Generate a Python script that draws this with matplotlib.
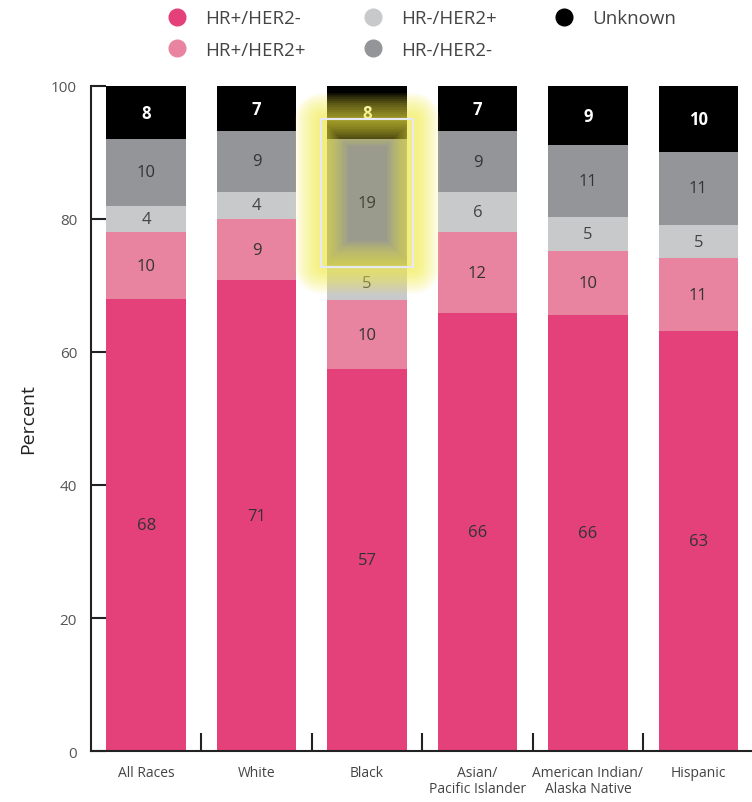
import matplotlib.pyplot as plt
import numpy as np
from matplotlib.lines import Line2D
from matplotlib.patches import Rectangle

# breast cancer subtypes by race/ethnicity (percent)
groups = ['All Races', 'White', 'Black', 'Asian/\nPacific Islander',
          'American Indian/\nAlaska Native', 'Hispanic']
subtypes = ['HR+/HER2-', 'HR+/HER2+', 'HR-/HER2+', 'HR-/HER2-', 'Unknown']
hr_pos_her2_neg = [68.0, 70.8, 57.4, 65.9, 65.6, 63.1]
hr_pos_her2_pos = [10.0, 9.2, 10.4, 12.1, 9.6, 11.0]
hr_neg_her2_pos = [4.0, 4.1, 5.0, 6.0, 5.1, 5.0]
hr_neg_her2_neg = [10.0, 9.1, 19.2, 9.2, 10.8, 11.0]
unknown = [8.0, 6.8, 8.0, 6.8, 8.9, 9.9]
highlight_group = 'Black'

colors = ['#e4417a', '#e8849f', '#c8c9cb', '#939598', '#000000']
text_colors = ['#333333', '#333333', '#444444', '#333333', 'white']

plt.rcParams['font.family'] = ['Open Sans', 'DejaVu Sans']

fig = plt.figure(figsize=(7.52, 8.03), dpi=100)
ax = fig.add_axes([0.121, 0.0635, 0.881, 0.8282])

series = [hr_pos_her2_neg, hr_pos_her2_pos, hr_neg_her2_pos, hr_neg_her2_neg, unknown]
x = np.arange(len(groups))
bottom = np.zeros(len(groups))
width = 0.72
seg_bounds = {}
for i, vals in enumerate(series):
    vals = np.array(vals)
    ax.bar(x, vals, width, bottom=bottom, color=colors[i], linewidth=0, zorder=2)
    for j, v in enumerate(vals):
        ax.text(x[j], bottom[j] + v / 2, f'{v:.0f}', ha='center', va='center',
                fontsize=12, color=text_colors[i],
                fontweight='bold' if i == 4 else 'normal', zorder=3)
    seg_bounds[i] = (bottom.copy(), bottom + vals)
    bottom = bottom + vals

# yellow highlight on the Black HR-/HER2- segment
k = groups.index(highlight_group)
lo = seg_bounds[3][0][k]
hi = seg_bounds[3][1][k] + 3
pad = 0.055
for lw in np.arange(38, 2, -3):
    ax.add_patch(Rectangle((k - width / 2 - pad, lo), width + 2 * pad, hi - lo,
                           facecolor='none', edgecolor='#f6ef40', linewidth=lw,
                           alpha=0.08, zorder=4, joinstyle='round'))
ax.add_patch(Rectangle((k - width / 2 - pad, lo), width + 2 * pad, hi - lo,
                       facecolor='#d8d030', alpha=0.1, linewidth=0, zorder=4))
ax.add_patch(Rectangle((k - width / 2 - pad, lo), width + 2 * pad, hi - lo,
                       facecolor='none', edgecolor='#e6e9f2', linewidth=1.6, zorder=5))

ax.set_xlim(-0.5, 5.5)
ax.set_ylim(0, 100)
ax.set_yticks(np.arange(0, 101, 20))
ax.set_xticks(x)
ax.set_xticklabels(groups, fontsize=10, color='#444444', linespacing=1.1)
ax.set_xticks(np.arange(0.5, 6, 1), minor=True)
ax.tick_params(axis='x', which='major', length=0, pad=10)
ax.tick_params(axis='x', which='minor', direction='in', length=13, width=1.5, color='#222222')
ax.tick_params(axis='y', direction='in', length=11, width=1.5, color='#222222',
               labelsize=11, labelcolor='#555555', pad=10)
for s in ['top', 'right']:
    ax.spines[s].set_visible(False)
for s in ['left', 'bottom']:
    ax.spines[s].set_linewidth(1.5)
    ax.spines[s].set_color('#222222')
ax.set_ylabel('Percent', fontsize=14, color='#222222', labelpad=10)

handles = [Line2D([], [], marker='o', linestyle='none', markersize=12,
                  markerfacecolor=c, markeredgecolor=c) for c in colors]
fig.legend(handles, subtypes, loc='upper center', bbox_to_anchor=(0.555, 1.008),
           ncol=3, frameon=False, fontsize=13.5, labelcolor='#444444',
           handletextpad=0.5, columnspacing=2.6, labelspacing=0.72)

fig.savefig('out.png', dpi=100)
